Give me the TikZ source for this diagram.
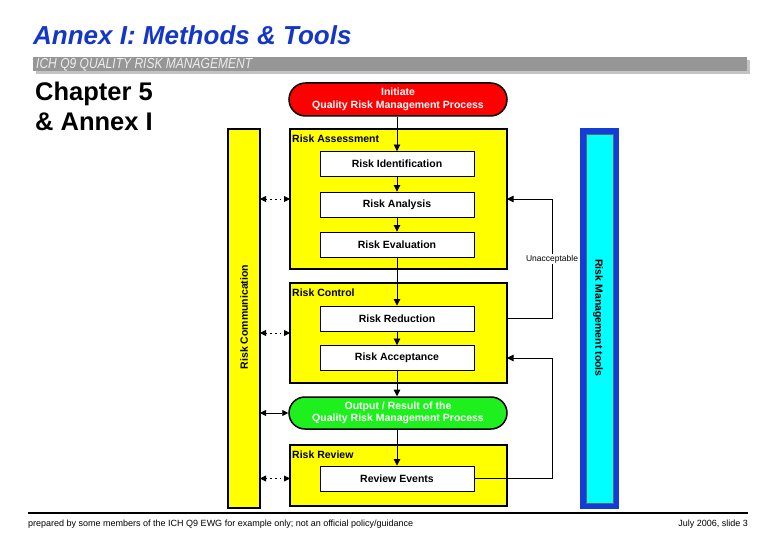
\documentclass[tikz,border=0pt]{standalone}
\usepackage{fontspec}
\usepackage{graphicx}
\setmainfont{Liberation Sans}
\usetikzlibrary{arrows.meta,shapes.misc}
\definecolor{ttlblue}{RGB}{20,55,200}
\definecolor{barg}{RGB}{150,150,150}
\definecolor{shadg}{RGB}{195,195,195}
\definecolor{tblue}{RGB}{20,60,215}
\definecolor{ycol}{RGB}{255,255,0}
\definecolor{rcol}{RGB}{255,0,0}
\definecolor{gcol}{RGB}{30,240,30}
\definecolor{ccol}{RGB}{0,255,255}
\begin{document}
\begin{tikzpicture}[x=1pt,y=-1pt,
  lbl/.style={font=\fontsize{10.5}{12}\selectfont\bfseries, inner sep=0pt},
  ybox/.style={draw, fill=ycol, line width=1.6pt, inner sep=0pt, outer sep=0pt},
  wbox/.style={draw, fill=white, line width=0.8pt, minimum width=154pt, minimum height=25pt, inner sep=0pt, font=\fontsize{10.5}{12}\selectfont\bfseries},
  pill/.style={rounded rectangle, draw, line width=1.5pt, minimum width=218pt, inner sep=0pt, text=white, align=center, font=\fontsize{10.5}{12.5}\selectfont\bfseries},
  arr/.style={line width=0.7pt, -{Triangle[length=6.5pt,width=6.5pt]}},
  darr/.style={line width=0.9pt, {Triangle[length=6pt,width=6pt]}-{Triangle[length=6pt,width=6pt]}},
  dots/.style={dash pattern=on 1.6pt off 3pt},
  foot/.style={inner sep=0pt, font=\fontsize{9}{10}\selectfont}
]
\useasboundingbox (0,0) rectangle (780,540);
\fill[white] (0,0) rectangle (780,540);

% header
\node[anchor=base west, inner sep=0pt, text=ttlblue, font=\fontsize{26}{30}\selectfont\bfseries\itshape] (title) at (33,44.5) {Annex I: Methods \& Tools};
\fill[shadg] (36,60) rectangle (750,74);
\fill[barg] (33,57) rectangle (747,71);
\node[anchor=west, inner sep=0pt, text=white!93!black, font=\fontsize{14.5}{16}\selectfont\itshape] (sub) at (36,64.5) {\scalebox{0.83}[1]{ICH Q9 QUALITY RISK MANAGEMENT}};
\node[anchor=base west, inner sep=0pt, font=\fontsize{25.5}{30}\selectfont\bfseries] (ch1) at (35,100.5) {Chapter 5};
\node[anchor=base west, inner sep=0pt, font=\fontsize{25.5}{30}\selectfont\bfseries] (ch2) at (35,130.5) {\& Annex I};

% side columns
\node[ybox, minimum width=32pt, minimum height=379pt] (comm) at (244,318.5) {};
\node[lbl, rotate=90] (commtxt) at (244,317) {Risk Communication};
\node[fill=tblue, minimum width=39pt, minimum height=381pt, inner sep=0pt] (toolsout) at (599.5,318.5) {};
\node[fill=ccol, draw=black!60, line width=0.4pt, minimum width=27pt, minimum height=369pt, inner sep=0pt] (tools) at (599.5,318.5) {};
\node[lbl, rotate=-90] (toolstxt) at (598,318) {Risk Management tools};

% pills
\node[pill, fill=rcol, minimum height=33pt] (init) at (398,99.5) {Initiate\\Quality Risk Management Process};
\node[pill, fill=gcol, minimum height=32pt] (out) at (398,413) {Output / Result of the\\Quality Risk Management Process};

% group boxes
\node[ybox, minimum width=217pt, minimum height=140pt] (RA) at (398.5,199) {};
\node[lbl, anchor=base west] (RAl) at (292,143) {Risk Assessment};
\node[ybox, minimum width=217pt, minimum height=100pt] (RC) at (398.5,333) {};
\node[lbl, anchor=base west] (RCl) at (292,297) {Risk Control};
\node[ybox, minimum width=217pt, minimum height=61pt] (RR) at (398.5,475.5) {};
\node[lbl, anchor=base west] (RRl) at (292,458) {Risk Review};

% white boxes
\node[wbox] (ident) at (397,164) {Risk Identification};
\node[wbox] (anal) at (397,204.5) {Risk Analysis};
\node[wbox] (eval) at (397,244.5) {Risk Evaluation};
\node[wbox] (red) at (397,318.5) {Risk Reduction};
\node[wbox] (acc) at (397,358) {Risk Acceptance};
\node[wbox] (revev) at (397,478.5) {Review Events};

% main flow
\draw[arr] (ident.north |- init.south) -- (ident.north);
\draw[arr] (ident) -- (anal);
\draw[arr] (anal) -- (eval);
\draw[arr] (eval) -- (red);
\draw[arr] (red) -- (acc);
\draw[arr] (acc.south) -- (acc.south |- out.north);
\draw[arr] (revev.north |- out.south) -- (revev.north);

% feedback loops
\coordinate (fbx) at (552,0);
\draw[arr] (red.east -| RC.east) -- (red.east -| fbx) |- (RA.east);
\node[fill=white, inner sep=1pt, font=\fontsize{8.5}{10}\selectfont] (unacc) at (552,259) {Unacceptable};
\draw[arr] (revev.east) -- (revev.east -| fbx) |- (acc.east -| RC.east);

% communication arrows
\draw[darr, dots] (comm.east |- RA.west) -- (RA.west);
\draw[darr, dots] (comm.east |- RC.west) -- (RC.west);
\draw[darr] (comm.east |- out.west) -- (out.west);
\draw[darr, dots] (comm.east |- revev.west) -- (revev.west -| RR.west);

% footer
\draw[line width=2pt] (28,513) -- (748,513);
\node[foot, anchor=base west] (fl) at (28,526) {prepared by some members of the ICH Q9 EWG for example only; not an official policy/guidance};
\node[foot, anchor=base east] (fr) at (748,526) {July 2006, slide 3};
\end{tikzpicture}
\end{document}
